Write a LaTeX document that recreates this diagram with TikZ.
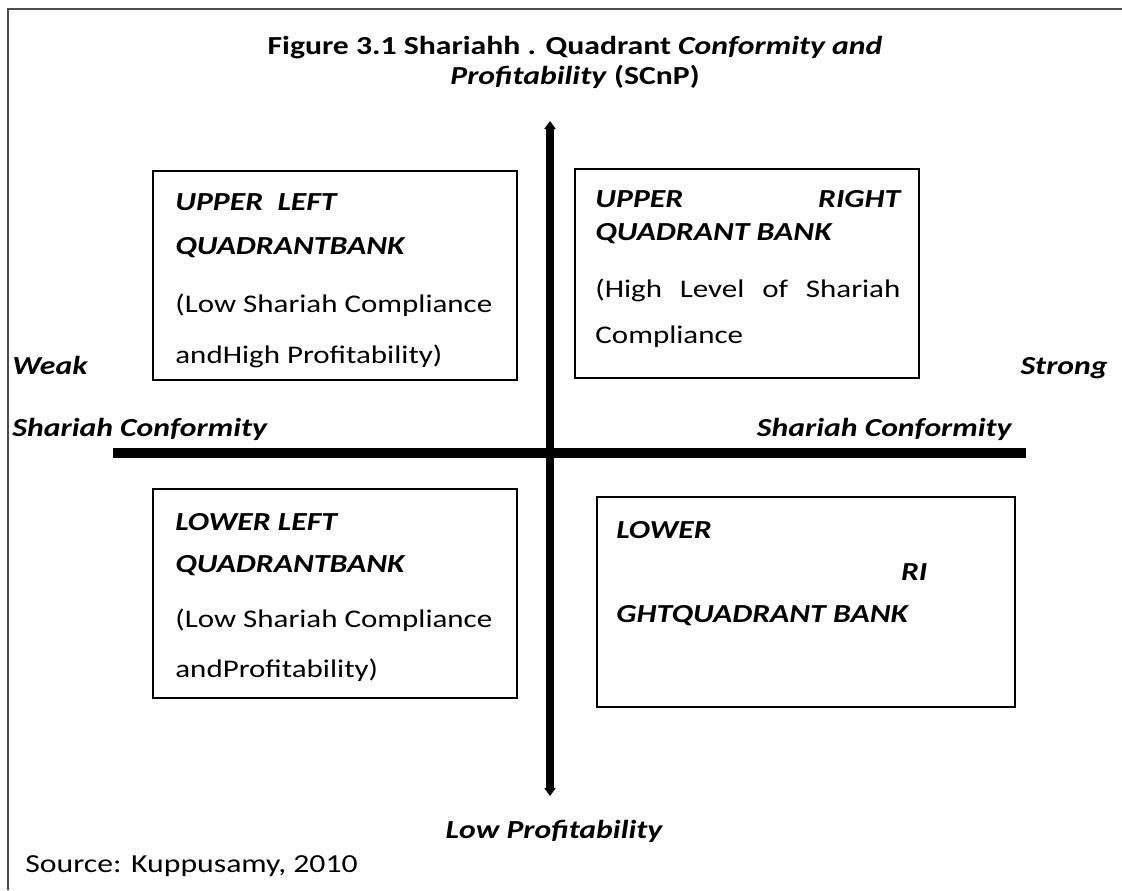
\documentclass[tikz,border=0pt]{standalone}
\usepackage{fontspec}
\setmainfont{Carlito}[FakeStretch=1.22]
\usetikzlibrary{arrows.meta}

\tikzset{
  quadbox/.style={draw, line width=1pt},
  boxhead/.style={anchor=base west, inner sep=0pt, align=left,
    font=\fontsize{13}{#1}\selectfont\bfseries\itshape},
  boxtext/.style={anchor=base west, inner sep=0pt, align=left,
    font=\fontsize{12.7}{#1}\selectfont},
  axislabel/.style={inner sep=0pt, font=\fontsize{13}{16}\selectfont\bfseries\itshape},
  axistip/.tip={Triangle[width=5.5pt,length=4pt]},
}

\begin{document}
\begin{tikzpicture}[x=0.5pt,y=-0.5pt]

    \useasboundingbox (0,0) rectangle (1122,890);

    % Rahmen
    \draw[black!70, line width=1pt] (8,890) -- (8,9) -- (1122,9);

    % Titel
    \node[anchor=base, inner sep=0pt, align=center,
      font=\fontsize{13}{15}\selectfont\bfseries] (title) at (575,84)
      {Figure 3.1 Shariahh . Quadrant \textit{Conformity and}\\
       \textit{Profitability} (SCnP)};

    % Achsen
    \coordinate (west) at (113,453);
    \coordinate (east) at (1026,453);
    \coordinate (top) at (550,121);
    \coordinate (bottom) at (550,796);
    \draw[line width=5pt] (west) -- (east);
    \draw[line width=4.3pt, axistip-axistip] (bottom) -- (top);

    % Quadranten
    \draw[quadbox] (153,171) rectangle (517,380);
    \draw[quadbox] (575,169) rectangle (919,378);
    \draw[quadbox] (153,489) rectangle (517,698);
    \draw[quadbox] (597,497) rectangle (1015,707);

    % oben links
    \node[boxhead=22pt] (ulhead) at (175,254) {UPPER\ \ LEFT\\QUADRANTBANK};
    \node[boxtext=25.5pt] (ultext) at (175,363)
      {\makebox[158.5pt][s]{(Low Shariah Compliance}\\andHigh Profitability)};

    % oben rechts
    \node[boxhead=16.5pt] (urhead) at (595,240)
      {\makebox[152.5pt][s]{UPPER RIGHT}\\QUADRANT BANK};
    \node[boxtext=23pt] (urtext) at (595,343)
      {\makebox[152.5pt][s]{(High Level of Shariah}\\Compliance};

    % unten links
    \node[boxhead=21pt] (llhead) at (175,572) {LOWER LEFT\\QUADRANTBANK};
    \node[boxtext=25pt] (lltext) at (175,677)
      {\makebox[158.5pt][s]{(Low Shariah Compliance}\\andProfitability)};

    % unten rechts
    \node[boxhead=21pt] (lrhead) at (616,622)
      {LOWER\\\makebox[155.5pt][r]{RI}\\GHTQUADRANT BANK};

    % Achsenbeschriftungen
    \node[axislabel, anchor=base west] (weak) at (12,374) {Weak};
    \node[axislabel, anchor=base east] (strong) at (1108,374) {Strong};
    \node[axislabel, anchor=base west] (confl) at (12,436) {Shariah Conformity};
    \node[axislabel, anchor=base east] (confr) at (1012,436) {Shariah Conformity};
    \node[axislabel, anchor=base] (lowprof) at (554,838) {Low Profitability};

    % Quelle
    \node[anchor=base west, inner sep=0pt, font=\fontsize{13}{16}\selectfont]
      (source) at (25,872) {Source: Kuppusamy, 2010};

\end{tikzpicture}
\end{document}
